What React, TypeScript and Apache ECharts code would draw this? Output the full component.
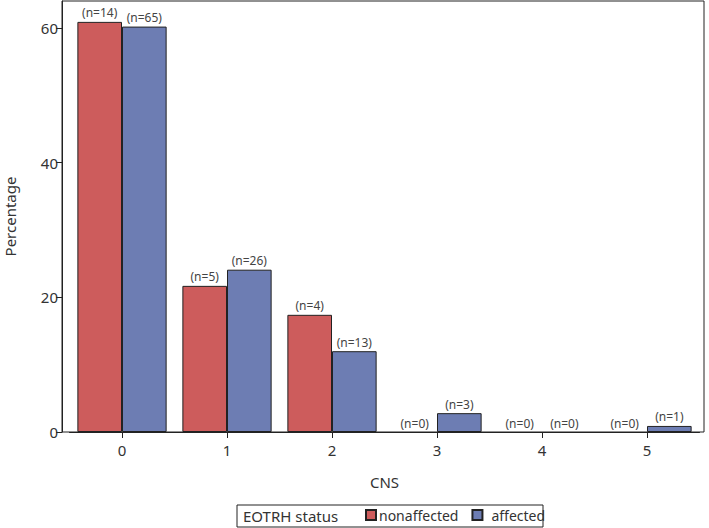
import React, { useEffect, useRef } from "react";
import * as echarts from "echarts";

// CNS score categories
const categories = ["0", "1", "2", "3", "4", "5"];
// Percentage of horses per CNS score, by EOTRH status
const nonaffectedPct = [60.9, 21.7, 17.4, 0, 0, 0];
const affectedPct = [60.2, 24.1, 12.0, 2.8, 0, 0.9];
// Counts printed above each bar
const nonaffectedN = [14, 5, 4, 0, 0, 0];
const affectedN = [65, 26, 13, 3, 0, 1];
const yTicks = [0, 20, 40, 60];

const FONT = "Noto Sans";
const TEXT = "#333";

// Empty bars get no outline so nothing is drawn over the baseline
const toBarData = (values: number[]) =>
  values.map((v) => (v === 0 ? { value: v, itemStyle: { borderWidth: 0 } } : v));

export default function App() {
  const ref = useRef<HTMLDivElement>(null);

  useEffect(() => {
    if (!ref.current) return;
    document.body.style.margin = "0";
    const chart = echarts.init(ref.current, null, { renderer: "svg" });

    const barLabel = (counts: number[]) => ({
      show: true,
      position: "top" as const,
      distance: 3,
      fontFamily: FONT,
      fontSize: 12,
      color: "#444",
      formatter: (p: any) => `(n=${counts[p.dataIndex]})`,
    });

    chart.setOption({
      animation: false,
      textStyle: { fontFamily: FONT },
      grid: {
        left: 69.5,
        right: 9.5,
        top: 1,
        bottom: 96,
        containLabel: false,
        outerBoundsMode: "none",
      },
      xAxis: {
        type: "category",
        data: categories,
        name: "CNS",
        nameLocation: "middle",
        nameGap: 42,
        nameTextStyle: { fontFamily: FONT, fontSize: 15, color: TEXT },
        axisLine: { show: true, lineStyle: { color: "#222", width: 1 } },
        axisTick: { show: true, alignWithLabel: true, length: 6, lineStyle: { color: "#222" } },
        axisLabel: { fontFamily: FONT, fontSize: 15, color: TEXT, margin: 10 },
      },
      yAxis: {
        type: "value",
        min: 0,
        max: 64,
        offset: 7.5,
        name: "Percentage",
        nameLocation: "middle",
        nameGap: 45,
        nameTextStyle: { fontFamily: FONT, fontSize: 15, color: TEXT },
        splitLine: { show: false },
        axisLine: { show: true, lineStyle: { color: "#222", width: 1 } },
        axisTick: { show: true, length: 6, customValues: yTicks, lineStyle: { color: "#222" } },
        axisLabel: { fontFamily: FONT, fontSize: 15, color: TEXT, margin: 4, customValues: yTicks },
      },
      legend: {
        left: 365,
        top: 508,
        padding: 0,
        itemWidth: 10,
        itemHeight: 10,
        itemGap: 13,
        icon: "rect",
        textStyle: { fontFamily: FONT, fontSize: 14, color: TEXT, padding: [0, 0, 0, -2] },
        data: [
          { name: "nonaffected" },
          { name: "affected", textStyle: { padding: [0, 0, 0, 4] } },
        ],
      },
      graphic: [
        {
          type: "rect",
          shape: { x: 62, y: 1, width: 642, height: 431 },
          style: { fill: "none", stroke: "#222", lineWidth: 1 },
          silent: true,
          z: 10,
        },
        {
          type: "rect",
          shape: { x: 237, y: 505, width: 306, height: 22 },
          style: { fill: "none", stroke: "#222", lineWidth: 1 },
          silent: true,
        },
        {
          type: "text",
          x: 243,
          y: 516,
          style: {
            text: "EOTRH status",
            fontFamily: FONT,
            fontSize: 15,
            fill: TEXT,
            textVerticalAlign: "middle",
          },
          silent: true,
        },
      ],
      series: [
        {
          name: "nonaffected",
          type: "bar",
          data: toBarData(nonaffectedPct),
          barGap: "0%",
          barCategoryGap: "15%",
          itemStyle: { color: "#CD5C5C", borderColor: "#222", borderWidth: 1 },
          label: barLabel(nonaffectedN),
        },
        {
          name: "affected",
          type: "bar",
          data: toBarData(affectedPct),
          barGap: "0%",
          barCategoryGap: "15%",
          itemStyle: { color: "#6D7DB3", borderColor: "#222", borderWidth: 1 },
          label: barLabel(affectedN),
        },
      ],
    });

    return () => chart.dispose();
  }, []);

  return <div ref={ref} style={{ width: 709, height: 528 }} />;
}
